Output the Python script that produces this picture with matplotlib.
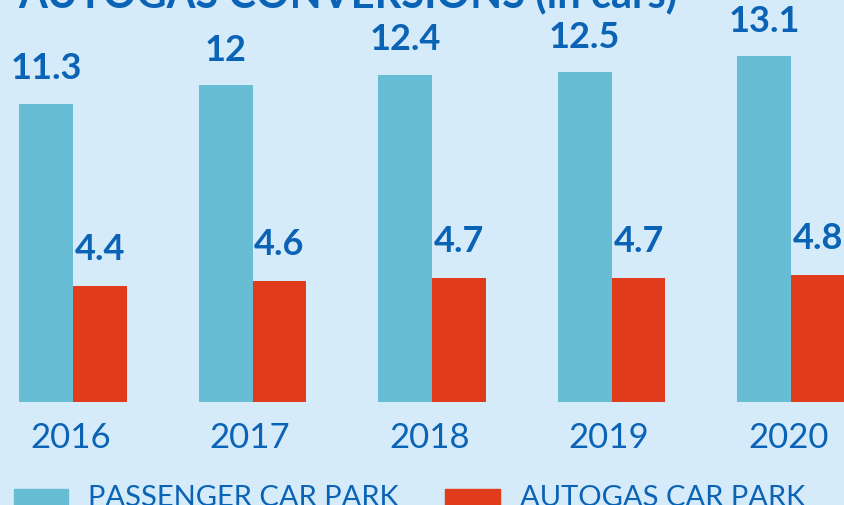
import matplotlib
matplotlib.use('Agg')
import matplotlib.pyplot as plt
import numpy as np

years = ['2016', '2017', '2018', '2019', '2020']
passenger = [11.3, 12, 12.4, 12.5, 13.1]
autogas = [4.4, 4.6, 4.7, 4.7, 4.8]
passenger_labels = ['11.3', '12', '12.4', '12.5', '13.1']
autogas_labels = ['4.4', '4.6', '4.7', '4.7', '4.8']

bg = '#d5ebfa'
c_pass = '#67bdd3'
c_auto = '#e03c1c'
c_text = '#0b63b5'

plt.rcParams['font.family'] = ['Lato', 'DejaVu Sans']

W, H = 845, 506
fig = plt.figure(figsize=(W / 100, H / 100), dpi=100, facecolor=bg)
# axes: baseline at 103px from bottom, spans to top
ax = fig.add_axes([0, 103 / H, 1, 1 - 103 / H])
ax.set_facecolor(bg)
for s in ax.spines.values():
    s.set_visible(False)
ax.set_xticks([])
ax.set_yticks([])

x = np.arange(len(years))
w = 0.3
ax.bar(x - w / 2, passenger, width=w, color=c_pass)
ax.bar(x + w / 2, autogas, width=w, color=c_auto)
ax.set_xlim(-0.407, 4.30)
ax.set_ylim(0, 403 / 26.4)

for i in range(len(years)):
    ax.annotate(passenger_labels[i], (x[i] - w / 2, passenger[i]), xytext=(0, 14),
                textcoords='offset points', ha='center', va='bottom',
                fontsize=26, fontweight='bold', color=c_text)
    ax.annotate(autogas_labels[i], (x[i] + w / 2, autogas[i]), xytext=(0, 15),
                textcoords='offset points', ha='center', va='bottom',
                fontsize=26, fontweight='bold', color=c_text)
    ax.annotate(years[i], (x[i], 0), xytext=(-2, -14),
                textcoords='offset points', ha='center', va='top',
                fontsize=25, color=c_text, annotation_clip=False)

fig.text(348 / W, 1 - 7 / H, 'AUTOGAS CONVERSIONS (in cars)', ha='center',
         va='baseline', fontsize=30, fontweight='bold', color=c_text)

# legend
fig.patches.append(plt.Rectangle((14 / W, 0), 54 / W, 16 / H, transform=fig.transFigure,
                                 color=c_pass, figure=fig))
fig.patches.append(plt.Rectangle((445 / W, 0), 55 / W, 16 / H, transform=fig.transFigure,
                                 color=c_auto, figure=fig))
fig.text(88 / W, 0, 'PASSENGER CAR PARK', ha='left', va='baseline', fontsize=21, color=c_text)
fig.text(520 / W, 0, 'AUTOGAS CAR PARK', ha='left', va='baseline', fontsize=21, color=c_text)

fig.savefig('out.png', dpi=100, facecolor=bg)
